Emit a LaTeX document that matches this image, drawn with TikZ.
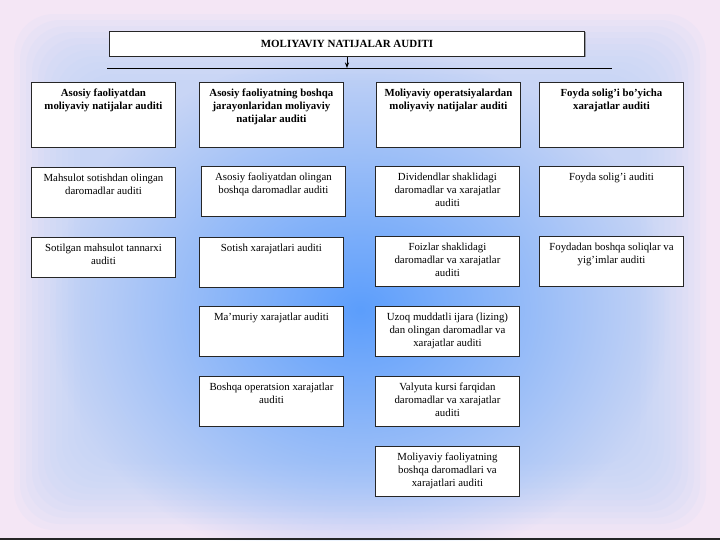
\documentclass[tikz,border=0pt]{standalone}
\usepackage{fontspec}
\setmainfont{Liberation Serif}
\usetikzlibrary{arrows.meta,shadows,fadings}

\definecolor{bgpink}{RGB}{244,230,245}
\definecolor{glowcore}{RGB}{92,158,252}
\definecolor{glowframe}{RGB}{190,212,246}

\tikzfading[name=glowfade, inner color=transparent!0, outer color=transparent!100]

\tikzset{
  cell/.style={draw=black!85, fill=white, anchor=north west, inner sep=0pt,
    line width=0.6pt,
    drop shadow={shadow xshift=0.7pt, shadow yshift=-0.7pt, opacity=0.45, fill=black!70}},
  headcell/.style={cell, font=\bfseries},
}
% text of a box, set from its top
\newcommand{\celltext}[2]{\parbox[c][#1][t]{3.6cm}{\centering\fontsize{7.7}{9.4}\selectfont
  \vspace*{4.5pt}#2\par}}

\begin{document}
\begin{tikzpicture}[x=0.025cm,y=-0.025cm]
	\useasboundingbox (0,0) rectangle (720,540);
	% background
	\fill[bgpink] (0,0) rectangle (720,540);
	\foreach \k in {0,...,11}
	  \fill[glowframe, opacity=0.11, rounded corners=1cm] (14+\k*6,14+\k*6) rectangle (706-\k*6,530-\k*6);
	\fill[glowcore, path fading=glowfade] (50,50) rectangle (670,570);
	\draw[black!85, line width=1.2pt] (0,539) -- (720,539);

	% title and bar
	\node[cell, minimum width=11.875cm, minimum height=0.625cm,
	  font=\bfseries\fontsize{7.8}{9.4}\selectfont] (title) at (109,31) {MOLIYAVIY NATIJALAR AUDITI};
	\coordinate (barL) at (107,68);
	\coordinate (barR) at (612,68);
	\draw[line width=0.6pt] (barL) -- (barR);
	\draw[line width=0.6pt, -{Stealth[length=4pt,width=3pt]}] (title.south) -- (title.south |- barL);

	% first row
	\node[headcell] (a1) at (31,82)  {\celltext{1.625cm}{Asosiy faoliyatdan\\ moliyaviy natijalar auditi}};
	\node[headcell] (b1) at (199,82) {\celltext{1.625cm}{Asosiy faoliyatning boshqa\\ jarayonlaridan moliyaviy\\ natijalar auditi}};
	\node[headcell] (c1) at (376,82) {\celltext{1.625cm}{Moliyaviy operatsiyalardan\\ moliyaviy natijalar auditi}};
	\node[headcell] (d1) at (539,82) {\celltext{1.625cm}{Foyda solig’i bo’yicha\\ xarajatlar auditi}};

	% first column
	\node[cell] (a2) at (31,167) {\celltext{1.25cm}{Mahsulot sotishdan olingan\\ daromadlar auditi}};
	\node[cell] (a3) at (31,237) {\celltext{1.0cm}{Sotilgan mahsulot tannarxi\\ auditi}};

	% second column
	\node[cell] (b2) at (201,166) {\celltext{1.25cm}{Asosiy faoliyatdan olingan\\ boshqa daromadlar auditi}};
	\node[cell] (b3) at (199,237) {\celltext{1.25cm}{Sotish xarajatlari auditi}};
	\node[cell] (b4) at (199,306) {\celltext{1.25cm}{Ma’muriy xarajatlar auditi}};
	\node[cell] (b5) at (199,376) {\celltext{1.25cm}{Boshqa operatsion xarajatlar\\ auditi}};

	% third column
	\node[cell] (c2) at (375,166) {\celltext{1.25cm}{Dividendlar shaklidagi\\ daromadlar va xarajatlar\\ auditi}};
	\node[cell] (c3) at (375,236) {\celltext{1.25cm}{Foizlar shaklidagi\\ daromadlar va xarajatlar\\ auditi}};
	\node[cell] (c4) at (375,306) {\celltext{1.25cm}{Uzoq muddatli ijara (lizing)\\ dan olingan daromadlar va\\ xarajatlar auditi}};
	\node[cell] (c5) at (375,376) {\celltext{1.25cm}{Valyuta kursi farqidan\\ daromadlar va xarajatlar\\ auditi}};
	\node[cell] (c6) at (375,446) {\celltext{1.25cm}{Moliyaviy faoliyatning\\ boshqa daromadlari va\\ xarajatlari auditi}};

	% fourth column
	\node[cell] (d2) at (539,166) {\celltext{1.25cm}{Foyda solig’i auditi}};
	\node[cell] (d3) at (539,236) {\celltext{1.25cm}{Foydadan boshqa soliqlar va\\ yig’imlar auditi}};

\end{tikzpicture}
\end{document}
